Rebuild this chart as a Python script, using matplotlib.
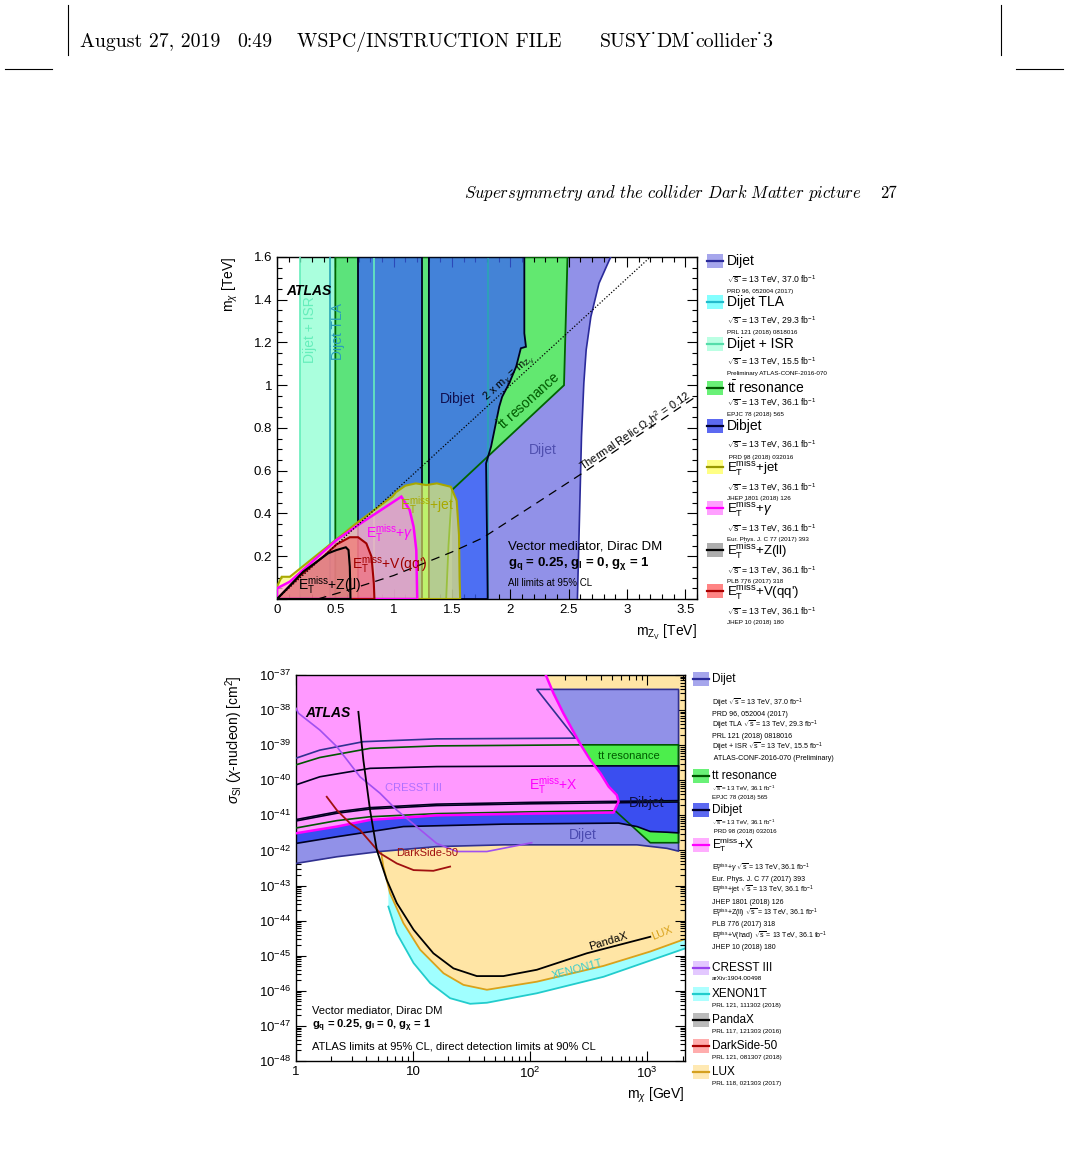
import numpy as np
import matplotlib
matplotlib.use('Agg')
import matplotlib.pyplot as plt
from matplotlib.patches import Rectangle
from matplotlib.ticker import MultipleLocator, LogLocator, FuncFormatter, NullFormatter

plt.rcParams['font.family'] = ['Liberation Sans', 'DejaVu Sans']
plt.rcParams['mathtext.fontset'] = 'custom'
plt.rcParams['mathtext.rm'] = 'Liberation Sans'
plt.rcParams['mathtext.it'] = 'Liberation Sans:italic'
plt.rcParams['mathtext.bf'] = 'Liberation Sans:bold'

# ---------------- top plot: m_chi vs m_Z' (TeV) ----------------
isr_x = [0.2, 0.835]
tla_x = [0.45, 1.806]
dijet_x = [1.5, 1.5, 2.86, 2.76, 2.69, 2.65, 2.63, 2.61, 2.60, 2.575]
dijet_y = [0.0, 1.6, 1.6, 1.477, 1.32, 1.165, 1.01, 0.76, 0.54, 0.0]
ttbar_x = [0.5, 0.5, 2.49, 2.46, 1.5, 1.47, 1.45]
ttbar_y = [0.0, 1.6, 1.6, 1.0, 0.51, 0.25, 0.0]
dibjet1_x = [0.695, 0.695, 1.245, 1.245]
dibjet1_y = [0.0, 1.6, 1.6, 0.0]
dibjet2_x = [1.302, 1.302, 2.12, 2.12, 2.134, 2.09, 2.05, 1.99, 1.93, 1.905, 1.835, 1.792, 1.80, 1.806]
dibjet2_y = [0.0, 1.6, 1.6, 1.243, 1.18, 1.173, 1.087, 1.009, 0.946, 0.90, 0.713, 0.635, 0.3, 0.0]
etjet_x = [0, 0, 0.04, 0.11, 0.68, 0.99, 1.02, 1.1, 1.19, 1.28, 1.37, 1.49, 1.54, 1.56, 1.565, 1.57]
etjet_y = [0, 0.058, 0.104, 0.104, 0.354, 0.48, 0.50, 0.53, 0.541, 0.533, 0.541, 0.525, 0.46, 0.30, 0.10, 0]
etgam_x = [0, 0, 0.11, 0.51, 0.695, 1.066, 1.137, 1.171, 1.194, 1.202]
etgam_y = [0, 0.05, 0.081, 0.276, 0.346, 0.479, 0.416, 0.338, 0.229, 0]
etz_x = [0, 0.225, 0.439, 0.51, 0.59, 0.613, 0.624, 0.63]
etz_y = [0, 0.128, 0.214, 0.229, 0.242, 0.229, 0.151, 0]
etv_x = [0, 0.2, 0.4, 0.51, 0.624, 0.695, 0.766, 0.81, 0.83, 0.835]
etv_y = [0, 0.11, 0.2, 0.255, 0.289, 0.289, 0.26, 0.198, 0.073, 0]
diag_x = [0.0, 3.2]
diag_y = [0.0, 1.6]
relic_x = [0.35, 0.6, 1.0, 1.5, 1.76, 2.2, 2.65, 3.0, 3.6]
relic_y = [0.0, 0.04, 0.11, 0.22, 0.285, 0.44, 0.60, 0.73, 0.95]

# ---------------- bottom plot: sigma_SI vs m_chi (GeV, log10 cm^2) ----------------
dj_lo_m = [1, 2.23, 5.22, 15.9, 59, 218, 818, 1473, 1850]
dj_lo_s = [-42.37, -42.18, -42.03, -41.89, -41.84, -41.84, -41.84, -41.94, -42.02]
dj_hi_m = [1, 1.6, 3.76, 15.9, 243, 114, 1850]
dj_hi_s = [-39.37, -39.14, -38.90, -38.82, -38.80, -37.41, -37.41]
tt_hi_m = [1, 1.6, 4.29, 15.9, 284, 1850]
tt_hi_s = [-39.56, -39.35, -39.09, -39.02, -38.99, -38.99]
tt_lo_m = [1850, 1061, 533, 100, 15.9, 4.29, 2.23, 1]
tt_lo_s = [-41.78, -41.78, -40.87, -40.90, -40.95, -41.04, -41.15, -41.36]
db1_hi_m = [1, 1.6, 4.29, 15.9, 361, 1850]
db1_hi_s = [-40.13, -39.90, -39.66, -39.61, -39.59, -39.59]
db1_lo_m = [1850, 569, 100, 15.9, 4.29, 2.23, 1]
db1_lo_s = [-40.58, -40.60, -40.63, -40.68, -40.78, -40.90, -41.12]
db2_hi_m = [1, 2.23, 4.29, 15.9, 100, 569, 1850]
db2_hi_s = [-41.16, -40.94, -40.82, -40.72, -40.67, -40.64, -40.62]
db2_lo_m = [1850, 1473, 1061, 818, 569, 59, 8.26, 2.23, 1]
db2_lo_s = [-41.50, -41.48, -41.46, -41.32, -41.22, -41.25, -41.32, -41.61, -41.80]
etx_m = [1, 2.23, 4.29, 15.9, 100, 515, 569, 549, 468, 398, 326, 266, 192, 158, 134, 1]
etx_s = [-41.51, -41.32, -41.13, -41.0, -40.95, -40.92, -40.61, -40.42, -40.18, -39.80, -39.42, -38.95, -38.09,
         -37.52, -36.95, -36.95]
lux_m = [5.05, 5.3, 5.57, 6.36, 8.26, 11.5, 18.2, 26.9, 42.7, 114, 423, 1061, 2113]
lux_s = [-41.56, -42.0, -42.46, -43.22, -44.07, -44.83, -45.50, -45.83, -45.97, -45.74, -45.29, -44.88, -44.52]
xe_m = [6.15, 7.26, 10.1, 14.0, 20.7, 30.7, 42.7, 114, 423, 2113]
xe_s = [-43.60, -44.36, -45.21, -45.78, -46.21, -46.37, -46.34, -46.07, -45.60, -44.79]
px_m = [3.41, 3.76, 4.29, 4.9, 5.96, 7.26, 10.1, 14.9, 22.1, 35.0, 59.1, 114, 305, 1061]
px_s = [-38.05, -39.42, -40.85, -41.99, -42.84, -43.50, -44.26, -44.93, -45.36, -45.58, -45.58, -45.40, -44.93,
        -44.46]
cr_m = [1.0, 1.05, 1.6, 2.23, 3.52, 5.22, 7.26, 10.7, 15.9, 23.6, 42.7, 103]
cr_s = [-37.95, -38.09, -38.57, -39.04, -39.90, -40.37, -40.85, -41.32, -41.80, -42.03, -42.03, -41.78]
ds_m = [1.83, 2.23, 2.9, 3.52, 4.29, 5.22, 7.26, 10.1, 14.9, 20.7]
ds_s = [-40.47, -40.85, -41.23, -41.42, -41.75, -42.08, -42.37, -42.56, -42.58, -42.46]

# ---------------- legends ----------------
top_names = ['Dijet', 'Dijet TLA', 'Dijet + ISR', r'$\mathrm{t\bar{t}}$ resonance', 'Dibjet',
             r'$\mathrm{E_T^{miss}}$+jet', r'$\mathrm{E_T^{miss}}$+$\gamma$', r'$\mathrm{E_T^{miss}}$+Z(ll)',
             r"$\mathrm{E_T^{miss}}$+V(qq')"]
top_face = ['#9090e8', '#66ffff', '#aaffdd', '#44ee55', '#3344ee', '#ffff66', '#ff88ff', '#999999', '#ff6666']
top_edge = ['#2a2a9a', '#22bbcc', '#55ddaa', '#005500', '#000030', '#999900', '#ff00ff', '#000000', '#aa0000']
top_lumi = ['37.0', '29.3', '15.5', '36.1', '36.1', '36.1', '36.1', '36.1', '36.1']
top_refs = ['PRD 96, 052004 (2017)', 'PRL 121 (2018) 0818016', 'Preliminary ATLAS-CONF-2016-070',
            'EPJC 78 (2018) 565', ' PRD 98 (2018) 032016', 'JHEP 1801 (2018) 126', 'Eur. Phys. J. C 77 (2017) 393',
            'PLB 776 (2017) 318', 'JHEP 10 (2018) 180']

SQ = r'$\sqrt{\mathrm{s}}$'
ET = r'$\mathrm{E_T^{miss}}$'
bot_names = ['Dijet', 'tt resonance', 'Dibjet', ET + '+X', 'CRESST III', 'XENON1T', 'PandaX', 'DarkSide-50', 'LUX']
bot_face = ['#9090e8', '#44ee55', '#3344ee', '#ff99ff', '#ddbbff', '#99ffff', '#aaaaaa', '#ff9999', '#ffe4a0']
bot_edge = ['#2a2a9a', '#005500', '#000030', '#ff00ff', '#9944ee', '#22cccc', '#000000', '#aa0000', '#d4a020']
bot_notes = [
    ['Dijet ' + SQ + r' = 13 TeV, 37.0 fb$^{-1}$', 'PRD 96, 052004 (2017)',
     'Dijet TLA ' + SQ + r' = 13 TeV, 29.3 fb$^{-1}$', 'PRL 121 (2018) 0818016',
     'Dijet + ISR ' + SQ + r' = 13 TeV, 15.5 fb$^{-1}$', ' ATLAS-CONF-2016-070 (Preliminary)'],
    [SQ + r' = 13 TeV, 36.1 fb$^{-1}$', 'EPJC 78 (2018) 565'],
    [SQ + r' = 13 TeV, 36.1 fb$^{-1}$', ' PRD 98 (2018) 032016'],
    [ET + r'+$\gamma$ ' + SQ + r' = 13 TeV, 36.1 fb$^{-1}$', 'Eur. Phys. J. C 77 (2017) 393',
     ET + '+jet ' + SQ + r' = 13 TeV, 36.1 fb$^{-1}$', 'JHEP 1801 (2018) 126',
     ET + '+Z(ll) ' + SQ + r' = 13 TeV, 36.1 fb$^{-1}$', 'PLB 776 (2017) 318',
     ET + '+V(had) ' + SQ + r' = 13 TeV, 36.1 fb$^{-1}$', 'JHEP 10 (2018) 180'],
    ['arXiv:1904.00498'], ['PRL 121, 111302 (2018)'], ['PRL 117, 121303 (2016)'],
    ['PRL 121, 081307 (2018)'], ['PRL 118, 021303 (2017)']]

W, H = 1069, 1150
fig = plt.figure(figsize=(W / 100, H / 100), dpi=100)


def px_box(x0, y0, x1, y1):
    return [x0 / W, 1 - y1 / H, (x1 - x0) / W, (y1 - y0) / H]


page = fig.add_axes([0, 0, 1, 1])
page.set_xlim(0, W)
page.set_ylim(H, 0)
page.axis('off')

ax1 = fig.add_axes(px_box(277, 257, 697, 599))
ax2 = fig.add_axes(px_box(296, 675, 685, 1061))

# ---------- page header ----------
cm = ['cmr10', 'DejaVu Serif']
page.plot([68, 68], [5, 55], color='k', lw=0.8)
page.plot([1001, 1001], [5, 55], color='k', lw=0.8)
page.plot([5, 52], [69, 69], color='k', lw=0.8)
page.plot([1016, 1063], [69, 69], color='k', lw=0.8)
for xx, s in [(80, 'August 27, 2019'), (237, '0:49'), (297, 'WSPC/INSTRUCTION FILE')]:
    page.text(xx, 42, s, family=cm, fontsize=14.3, va='center', ha='left')
# file name: words in cmr10, the dot accents squeezed in between
renderer = fig.canvas.get_renderer()
xx = 600
for piece in ['SUSY', '\u02d9', 'DM', '\u02d9', 'collider', '\u02d9', '3']:
    fam = 'Liberation Serif' if piece == '\u02d9' else cm
    t = page.text(xx, 42, piece, family=fam, fontsize=14.3, va='center', ha='left')
    xx += t.get_window_extent(renderer).width * 0.97
page.text(862, 193, r'$\mathit{Supersymmetry\ and\ the\ collider\ Dark\ Matter\ picture}$', math_fontfamily='cm',
          fontsize=12, ha='right', va='center')
page.text(880, 193, '27', family=cm, fontsize=12, ha='left', va='center')

# ---------- top plot ----------
ax1.axvspan(isr_x[0], isr_x[1], color='#aaffdd', lw=0, zorder=1)
ax1.fill(dijet_x, dijet_y, color='#9191e8', lw=0, zorder=1.1)
ax1.fill(ttbar_x, ttbar_y, color='#62e870', lw=0, zorder=1.2)
ax1.axvspan(tla_x[0], tla_x[1], color='#33c0d0', alpha=0.12, lw=0, zorder=1.4)
ax1.fill(dibjet1_x, dibjet1_y, color='#3b62f9', alpha=0.75, lw=0, zorder=1.6)
ax1.fill(dibjet2_x, dibjet2_y, color='#3b62f9', alpha=0.75, lw=0, zorder=1.6)

for xv in isr_x:
    ax1.axvline(xv, color='#66eebb', lw=1.2, zorder=3)
for xv in tla_x:
    ax1.axvline(xv, color='#2aa5b5', lw=1.2, zorder=3)
ax1.plot(dijet_x[2:], dijet_y[2:], color='#2a2a9a', lw=1.2, zorder=3)
ax1.fill(ttbar_x, ttbar_y, facecolor='none', edgecolor='#006400', lw=1.3, zorder=3)
ax1.fill(dibjet1_x, dibjet1_y, facecolor='none', edgecolor='#000020', lw=1.3, zorder=3)
ax1.fill(dibjet2_x, dibjet2_y, facecolor='none', edgecolor='#000020', lw=1.3, zorder=3)

ax1.fill(etjet_x, etjet_y, color='#fafa64', alpha=0.62, lw=0, zorder=5)
ax1.fill(etgam_x, etgam_y, color='#ff80ff', alpha=0.5, lw=0, zorder=5.1)
ax1.fill(etz_x, etz_y, color='#909090', alpha=0.35, lw=0, zorder=5.2)
ax1.fill(etv_x, etv_y, color='#ff5050', alpha=0.45, lw=0, zorder=5.3)
ax1.fill(etjet_x, etjet_y, facecolor='none', edgecolor='#a8a800', lw=1.5, zorder=6)
ax1.fill(etgam_x, etgam_y, facecolor='none', edgecolor='#ff00ff', lw=1.8, zorder=6)
ax1.fill(etv_x, etv_y, facecolor='none', edgecolor='#a00000', lw=1.5, zorder=6)
ax1.fill(etz_x, etz_y, facecolor='none', edgecolor='#000000', lw=1.5, zorder=6)

ax1.plot(diag_x, diag_y, color='k', lw=0.9, ls=(0, (1, 1.5)), zorder=7)
ax1.plot(relic_x, relic_y, color='k', lw=0.9, ls=(0, (7, 5)), zorder=7)

ax1.set_xlim(0, 3.6)
ax1.set_ylim(0, 1.6)
ax1.xaxis.set_major_locator(MultipleLocator(0.5))
ax1.xaxis.set_minor_locator(MultipleLocator(0.1))
ax1.yaxis.set_major_locator(MultipleLocator(0.2))
ax1.yaxis.set_minor_locator(MultipleLocator(0.05))
ax1.xaxis.set_major_formatter(FuncFormatter(lambda v, p: '%g' % v))
ax1.yaxis.set_major_formatter(FuncFormatter(lambda v, p: '' if v == 0 else '%g' % v))
ax1.set_ylabel(r'm$_{\chi}$ [TeV]', loc='top', fontsize=10, labelpad=10)
ax1.set_xlabel(r'm$_{\mathrm{Z}_{\mathrm{V}}}$ [TeV]', loc='right', fontsize=10, labelpad=5)

tk = dict(fontsize=10, zorder=8)
ax1.text(0.08, 1.44, 'ATLAS', fontsize=10, weight='bold', style='italic', va='center', zorder=8)
ax1.text(0.285, 1.26, 'Dijet + ISR', color='#66eebb', rotation=90, ha='center', va='center', **tk)
ax1.text(0.525, 1.25, 'Dijet TLA', color='#2a9fb8', rotation=90, ha='center', va='center', **tk)
ax1.text(1.55, 0.936, 'Dibjet', color='#101050', ha='center', va='center', **tk)
ax1.text(2.16, 0.93, r'$\mathrm{\bar{t}t}$ resonance', color='#005a00', rotation=42, ha='center', va='center',
         rotation_mode='anchor', **tk)
ax1.text(2.28, 0.697, 'Dijet', color='#5050b0', ha='center', va='center', **tk)
ax1.text(1.29, 0.44, ET + '+jet', color='#a8a800', ha='center', va='center', **tk)
ax1.text(0.97, 0.31, ET + r'+$\gamma$', color='#ff00ff', ha='center', va='center', **tk)
ax1.text(0.97, 0.165, ET + "+V(qq')", color='#a00000', ha='center', va='center', **tk)
ax1.text(0.45, 0.065, ET + '+Z(ll)', color='k', ha='center', va='center', **tk)
ax1.text(1.99, 1.03, r'2 x m$_{\chi}$ = m$_{\mathrm{Z}_{\mathrm{V}}}$', rotation=42, fontsize=8,
         ha='center', va='center', rotation_mode='anchor', zorder=8)
ax1.text(3.08, 0.78, r'Thermal Relic $\Omega_{\chi}$h$^{2}$ = 0.12', rotation=34, fontsize=8,
         ha='center', va='center', rotation_mode='anchor', zorder=8)
ax1.text(1.98, 0.245, 'Vector mediator, Dirac DM', fontsize=9.5, va='center', zorder=8)
ax1.text(1.98, 0.165, r'$\mathbf{g_q}$ = 0.25, $\mathbf{g_l}$ = 0, $\mathbf{g_{\chi}}$ = 1', fontsize=9.5,
         weight='bold', va='center', zorder=8)
ax1.text(1.98, 0.075, 'All limits at 95% CL', fontsize=7, va='center', zorder=8)

# ---------- bottom plot ----------
def S(a):
    return 10.0 ** np.asarray(a)


top_s = -36.9
ax2.fill(xe_m + [xe_m[-1], xe_m[0]], S(xe_s + [top_s, top_s]), color='#a0ffff', lw=0, zorder=1)
ax2.fill(lux_m + [lux_m[-1], lux_m[0] * 0.97], S(lux_s + [top_s, top_s]), color='#ffe5a5', lw=0, zorder=1.1)
ax2.plot(xe_m, S(xe_s), color='#22cccc', lw=1.3, zorder=1.2)
ax2.plot(lux_m, S(lux_s), color='#d9a21b', lw=1.3, zorder=1.3)

regions = [
    (dj_lo_m + dj_hi_m[::-1], dj_lo_s + dj_hi_s[::-1], '#9191e8', '#303090'),
    (tt_hi_m + tt_lo_m, tt_hi_s + tt_lo_s, '#4cee4c', '#005500'),
    (db1_hi_m + db1_lo_m, db1_hi_s + db1_lo_s, '#3a4ef0', '#000020'),
    (db2_hi_m + db2_lo_m, db2_hi_s + db2_lo_s, '#3a4ef0', '#000020'),
    (etx_m, etx_s, '#ff99ff', '#ff00ff'),
]
for i, (mm, ss, fc, ec) in enumerate(regions):
    ax2.fill(mm, S(ss), color=fc, lw=0, zorder=2 + 0.1 * i)
for i, (mm, ss, fc, ec) in enumerate(regions):
    # outline without the closing segment on the m = 1 GeV edge
    ax2.plot(mm, S(ss), color=ec, lw=1.8 if ec == '#ff00ff' else 1.2, zorder=3 + 0.1 * i)

ax2.plot(cr_m, S(cr_s), color='#a050f0', lw=1.2, zorder=4)
ax2.plot(ds_m, S(ds_s), color='#a01010', lw=1.3, zorder=4)
ax2.plot(px_m, S(px_s), color='k', lw=1.3, zorder=4)

ax2.set_xscale('log')
ax2.set_yscale('log')
ax2.set_xlim(1, 2100)
ax2.set_ylim(1e-48, 1e-37)
ax2.yaxis.set_major_locator(LogLocator(base=10, numticks=20))
ax2.yaxis.set_minor_locator(LogLocator(base=10, subs=np.arange(2, 10), numticks=200))
ax2.yaxis.set_minor_formatter(NullFormatter())
ax2.xaxis.set_major_locator(LogLocator(base=10, numticks=10))
ax2.xaxis.set_minor_locator(LogLocator(base=10, subs=np.arange(2, 10), numticks=50))
ax2.xaxis.set_minor_formatter(NullFormatter())
ax2.yaxis.set_major_formatter(FuncFormatter(lambda v, p: r'$10^{%d}$' % round(np.log10(v))))
ax2.xaxis.set_major_formatter(FuncFormatter(
    lambda v, p: '%d' % round(v) if v < 50 else r'$10^{%d}$' % round(np.log10(v))))
ax2.set_ylabel(r'$\sigma_{\mathrm{SI}}$ ($\chi$-nucleon) [cm$^{2}$]', loc='top', fontsize=10, labelpad=10)
ax2.set_xlabel(r'm$_{\chi}$ [GeV]', loc='right', fontsize=10, labelpad=3)

ax2.text(1.19, S(-38.08), 'ATLAS', fontsize=10, weight='bold', style='italic', va='center', zorder=8)
ax2.text(692, S(-39.31), 'tt resonance', color='#005a00', fontsize=8, ha='center', va='center', zorder=8)
ax2.text(158, S(-40.13), ET + '+X', color='#ff00ff', fontsize=10, ha='center', va='center', zorder=8)
ax2.text(993, S(-40.64), 'Dibjet', color='#101040', fontsize=10, ha='center', va='center', zorder=8)
ax2.text(284, S(-41.56), 'Dijet', color='#4b4bb0', fontsize=10, ha='center', va='center', zorder=8)
ax2.text(10.1, S(-40.23), 'CRESST III', color='#b070ff', fontsize=8, ha='center', va='center', zorder=8)
ax2.text(13.1, S(-42.08), 'DarkSide-50', color='#a01010', fontsize=8, ha='center', va='center', zorder=8)
ax2.text(467, S(-44.6), 'PandaX', color='k', fontsize=8, rotation=17, ha='center', va='center', zorder=8)
ax2.text(1334, S(-44.36), 'LUX', color='#d9a21b', fontsize=8, rotation=22, ha='center', va='center', zorder=8)
ax2.text(251, S(-45.40), 'XENON1T', color='#33cccc', fontsize=8, rotation=15, ha='center', va='center', zorder=8)
ax2.text(1.36, S(-46.56), 'Vector mediator, Dirac DM', fontsize=8, va='center', zorder=8)
ax2.text(1.36, S(-46.99), r'$\mathbf{g_q}$ = 0.25, $\mathbf{g_l}$ = 0, $\mathbf{g_{\chi}}$ = 1', fontsize=8,
         weight='bold', va='center', zorder=8)
ax2.text(1.36, S(-47.59), 'ATLAS limits at 95% CL, direct detection limits at 90% CL', fontsize=8,
         va='center', zorder=8)

for ax in (ax1, ax2):
    ax.tick_params(which='both', direction='in', top=True, right=True, labelsize=9.5, width=0.8)
    ax.tick_params(which='major', length=7)
    ax.tick_params(which='minor', length=3.5)
    for sp in ax.spines.values():
        sp.set_linewidth(1.0)

# ---------- legends ----------
top_y = [261, 302, 344, 388, 426, 467, 508, 550, 591]
sub_off = [18.5, 18.5, 17.5, 15, 19, 20.5, 20.5, 20.5, 21]
ref_off = [31, 30.5, 30, 26.5, 31.5, 31.5, 31.5, 31.5, 31.5]
for i, name in enumerate(top_names):
    y = top_y[i]
    is_et = name.startswith(ET)
    page.add_patch(Rectangle((707, y - 7), 16, 14, facecolor=top_face[i], alpha=0.8, lw=0))
    page.plot([707, 723], [y, y], color=top_edge[i], lw=1.6)
    page.text(727, y + (1.5 if is_et else 0), name, fontsize=9.5 if is_et else 10, va='center')
    page.text(727, y + sub_off[i], SQ + r' = 13 TeV, %s fb$^{-1}$' % top_lumi[i], fontsize=6.2, va='center')
    page.text(727, y + ref_off[i], top_refs[i], fontsize=4.5, va='center')

bot_y = [679, 776, 810, 845, 968, 994, 1020, 1046, 1072]
note_off = [24, 12, 12, 23, 11, 11, 11, 11, 11]
note_gap = [11, 9.5, 10, 11.4, 10, 10, 10, 10, 10]
note_size = [5.1, 4.4, 4.4, 5.0, 4.6, 4.6, 4.6, 4.6, 4.6]
for i, name in enumerate(bot_names):
    y = bot_y[i]
    page.add_patch(Rectangle((693, y - 7), 16, 14, facecolor=bot_face[i], alpha=0.8, lw=0))
    page.plot([693, 709], [y, y], color=bot_edge[i], lw=1.6)
    page.text(712, y, name, fontsize=8.5, va='center')
    for k, note in enumerate(bot_notes[i]):
        page.text(712, y + note_off[i] + note_gap[i] * k, note, fontsize=note_size[i], va='center')

fig.savefig('out.png', dpi=100)
